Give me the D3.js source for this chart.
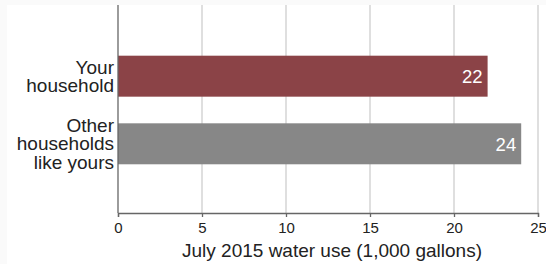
<!DOCTYPE html>
<html>
<head>
<meta charset="utf-8">
<script src="https://cdn.jsdelivr.net/npm/d3@7"></script>
<style>
  html, body { margin: 0; padding: 0; background: #fafafa; }
  svg { display: block; font-family: "Liberation Sans", Arial, sans-serif; }
</style>
</head>
<body>
<div id="chart"></div>
<script>
// 数据
const categories = ["Your household", "Other households like yours"];
const labelLines = [["Your", "household"], ["Other", "households", "like yours"]];
const values = [22, 24];
const barColors = ["#8b4347", "#878787"];
const xTicks = [0, 5, 10, 15, 20, 25];
const xTitle = "July 2015 water use (1,000 gallons)";

const W = 546, H = 264;
const m = { top: 5, right: 8, bottom: 51, left: 118 };

const svg = d3.select("#chart").append("svg").attr("width", W).attr("height", H);
svg.append("rect").attr("x", 7).attr("y", 5).attr("width", W - 7).attr("height", H - 5).attr("fill", "#fff");

const x = d3.scaleLinear().domain([0, 25]).range([m.left, W - m.right]);
const y = d3.scaleBand().domain(categories).range([m.top, H - m.bottom])
  .paddingInner(0.394).paddingOuter(0.735).align(0.51);

// 网格线
svg.append("g").selectAll("line.grid").data(xTicks.filter((d) => d > 0)).join("line")
  .attr("x1", (d) => x(d)).attr("x2", (d) => x(d))
  .attr("y1", m.top).attr("y2", H - m.bottom)
  .attr("stroke", "#d4d4d4").attr("stroke-width", 1.5);

// 条形
svg.append("g").selectAll("rect.bar").data(values).join("rect")
  .attr("x", x(0)).attr("y", (d, i) => y(categories[i]))
  .attr("width", (d) => x(d) - x(0)).attr("height", y.bandwidth())
  .attr("fill", (d, i) => barColors[i]);

// 数值标签
svg.append("g").selectAll("text.val").data(values).join("text")
  .attr("x", (d) => x(d) - 5).attr("y", (d, i) => y(categories[i]) + y.bandwidth() / 2 + 7)
  .attr("text-anchor", "end").attr("fill", "#fff").style("font-size", "18.5px")
  .text((d) => d);

// x 轴
const xAxis = svg.append("g").attr("transform", `translate(0,${H - m.bottom})`)
  .call(d3.axisBottom(x).tickValues(xTicks).tickSize(4).tickPadding(5).tickFormat(d3.format("d")));
xAxis.select(".domain").attr("stroke", "#666").attr("stroke-width", 1.3);
xAxis.selectAll(".tick line").attr("stroke", "#666").attr("stroke-width", 1.3);
xAxis.selectAll(".tick text").attr("fill", "#222").style("font-size", "15px")
  .style("font-family", "'Liberation Sans', Arial, sans-serif");

// y 轴线
svg.append("line").attr("x1", x(0)).attr("x2", x(0)).attr("y1", m.top).attr("y2", H - m.bottom)
  .attr("stroke", "#666").attr("stroke-width", 1.3);

// 类别标签（多行）
const lineH = 18.2;
categories.forEach((c, i) => {
  const lines = labelLines[i];
  const cy = y(c) + y.bandwidth() / 2;
  const first = cy - (lines.length - 1) * lineH / 2 + 6.5;
  const t = svg.append("text").attr("text-anchor", "end").attr("fill", "#222").style("font-size", "19px");
  lines.forEach((s, k) => t.append("tspan").attr("x", x(0) - 4).attr("y", first + k * lineH).text(s));
});

// 轴标题
svg.append("text").attr("x", (x(0) + x(25)) / 2 + 4).attr("y", 257)
  .attr("text-anchor", "middle").attr("fill", "#222").style("font-size", "19px").text(xTitle);
</script>
</body>
</html>
